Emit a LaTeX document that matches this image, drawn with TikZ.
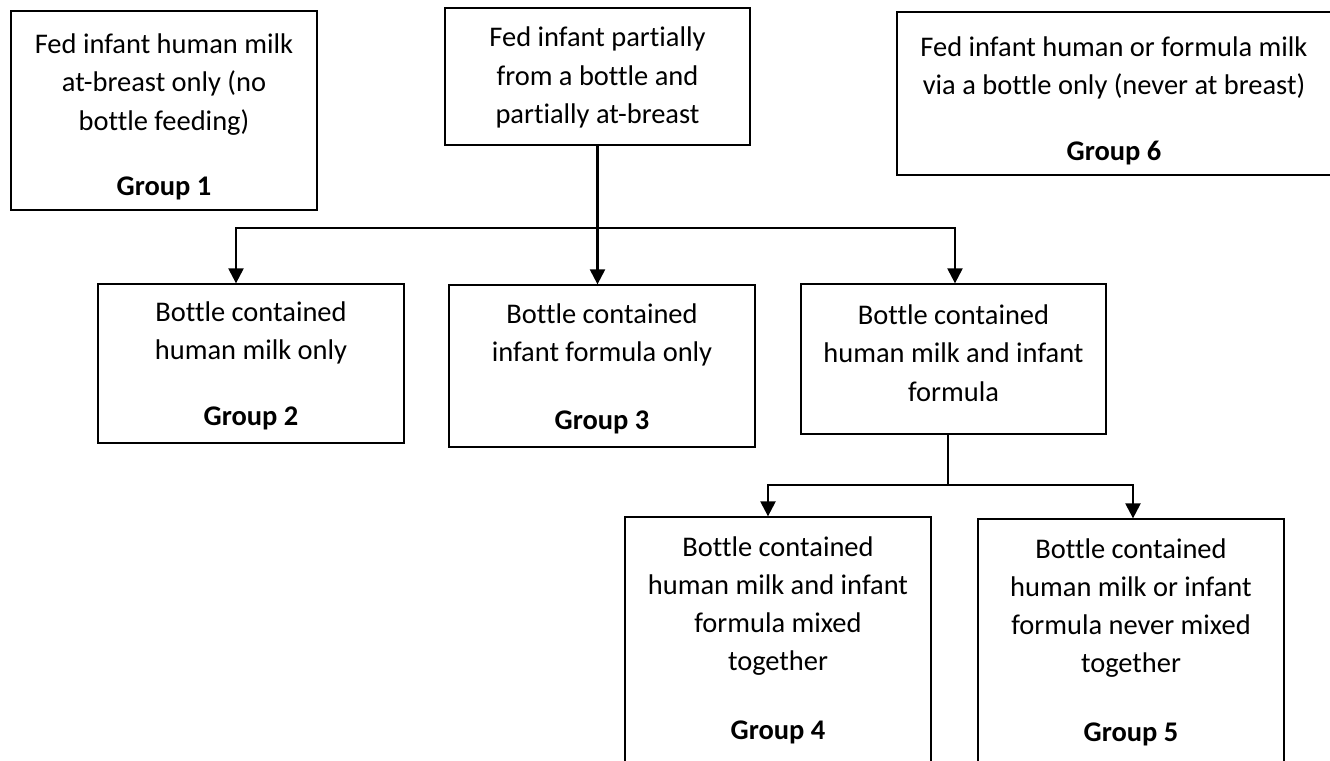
\documentclass[tikz,border=0pt]{standalone}
\usepackage{fontspec}
\setmainfont[Ligatures=NoCommon]{Carlito}
\usetikzlibrary{positioning,arrows.meta}

\begin{document}
\begin{tikzpicture}
    [x=0.02cm,y=-0.02cm,
     box/.style={draw, line width=0.75pt, inner sep=0pt},
     txt/.style={align=center, inner sep=0pt, font=\fontsize{16.2}{21.8}\selectfont},
     link/.style={line width=1.3pt},
     arr/.style={link, -{Triangle[width=0.3cm,length=0.3cm]}},
     arrs/.style={link, {Triangle[width=0.3cm,length=0.3cm]}-{Triangle[width=0.3cm,length=0.3cm]}}]
  \useasboundingbox (0,0) rectangle (1330,761);
  \clip (0,0) rectangle (1330,761);

  % boxes
  \node[box, minimum width=6.12cm, minimum height=3.98cm] (g1) at (164,110.5) {};
  \node[box, minimum width=6.10cm, minimum height=2.74cm] (mid) at (597.5,76.5) {};
  \node[box, minimum width=8.76cm, minimum height=3.26cm] (g6) at (1116,93.5) {};
  \node[box, minimum width=6.12cm, minimum height=3.18cm] (g2) at (251,363.5) {};
  \node[box, minimum width=6.12cm, minimum height=3.24cm] (g3) at (602,366) {};
  \node[box, minimum width=6.10cm, minimum height=3.00cm] (mix) at (953.5,359) {};
  \node[box, minimum width=6.12cm, minimum height=5.06cm] (g4) at (778,643.5) {};
  \node[box, minimum width=6.12cm, minimum height=5.02cm] (g5) at (1131,644.5) {};

  % texts
  \node[txt] (g1t) at (164,117) {Fed infant human milk\\at-breast only (no\\bottle feeding)\\[0.55cm]\textbf{Group 1}};
  \node[txt] (midt) at (597.5,77.5) {Fed infant partially\\from a bottle and\\partially at-breast};
  \node[txt] (g6t) at (1114,101) {Fed infant human or formula milk\\via a bottle only (never at breast)\\[0.55cm]\textbf{Group 6}};
  \node[txt] (g2t) at (251,366) {Bottle contained\\human milk only\\[0.55cm]\textbf{Group 2}};
  \node[txt] (g3t) at (602,369) {Bottle contained\\infant formula only\\[0.6cm]\textbf{Group 3}};
  \node[txt] (mixt) at (953.5,353) {Bottle contained\\human milk and infant\\formula};
  \node[txt] (g4t) at (778,640) {Bottle contained\\human milk and infant\\formula mixed\\together\\[0.6cm]\textbf{Group 4}};
  \node[txt] (g5t) at (1131,642) {Bottle contained\\human milk or infant\\formula never mixed\\together\\[0.6cm]\textbf{Group 5}};

  % connectors
  \coordinate (b1) at (236,228);
  \coordinate (b2) at (955,228);
  \coordinate (b3) at (768,485);
  \coordinate (b4) at (1133,485);
  \coordinate (b5) at (948,485);

  \draw[arr] (mid.south) -- (mid.south |- g3.north);
  \draw[arrs] (b1 |- g2.north) -- (b1) -- (b2) -- (b2 |- mix.north);
  \draw[link] (b5 |- mix.south) -- (b5);
  \draw[arrs] (b3 |- g4.north) -- (b3) -- (b4) -- (b4 |- g5.north);
\end{tikzpicture}
\end{document}
